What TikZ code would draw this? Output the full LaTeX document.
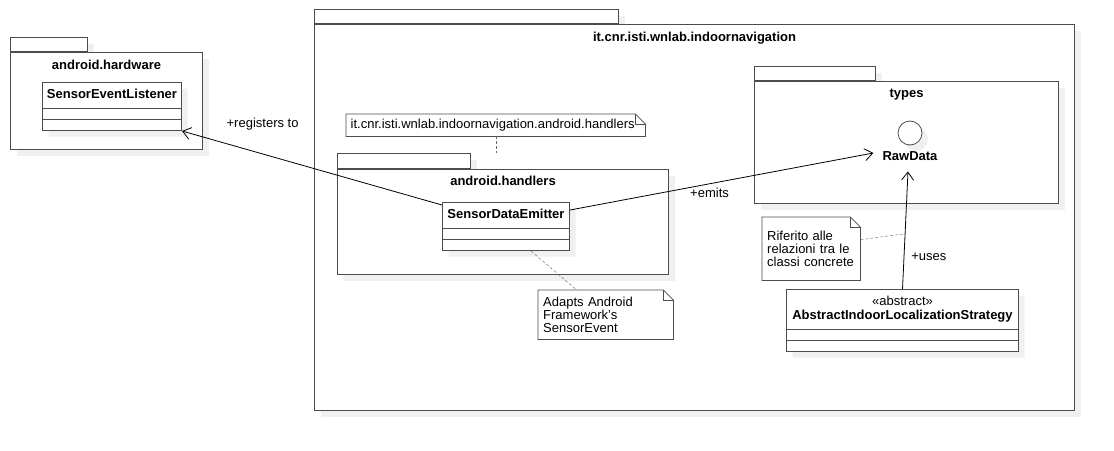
\documentclass[tikz,border=0pt]{standalone}
\usepackage{fontspec}
\setmainfont{Liberation Sans}
\usetikzlibrary{arrows.meta, calc, positioning, shadows, shapes.multipart}

\newcommand\diafont{\fontsize{13}{13}\selectfont}
\newcommand\clsstrut{\rule[-4.5pt]{0pt}{15pt}}
\newcommand\notebox[1]{%
  \draw[notebord] (#1.north west) -- ($(#1.north east)+(-10,0)$) -- ($(#1.north east)+(0,10)$)
    -- (#1.south east) -- (#1.south west) -- cycle;
  \draw[notebord] ($(#1.north east)+(-10,0)$) |- ($(#1.north east)+(0,10)$);}

\tikzset{
  boxline/.style={draw=black!70, line width=1pt, fill=white},
  dropshade/.style={drop shadow={shadow xshift=6pt, shadow yshift=-6pt, fill=black!6, opacity=1}},
  pkgtab/.style={boxline, dropshade, anchor=north west, inner sep=0pt},
  pkgbody/.style={boxline, dropshade, inner sep=0pt},
  pkgname/.style={font=\diafont\bfseries, inner sep=0pt, text height=9.5pt, text depth=3pt},
  umlclass/.style={boxline, dropshade, rectangle split, rectangle split parts=3,
    rectangle split empty part height=0pt, rectangle split empty part depth=0pt,
    inner ysep=5pt, inner xsep=3pt, align=center, font=\diafont\bfseries, anchor=north west},
  umlnote/.style={inner xsep=5pt, inner ysep=2pt, align=left, anchor=north west},
  notebord/.style={draw=black!70, line width=0.8pt},
  notelink/.style={draw=black!60, thin, dash pattern=on 3pt off 2pt},
  assoc/.style={draw=black, line width=0.8pt, -{Straight Barb[length=8pt, width=12pt]}},
  elabel/.style={inner sep=1pt, text height=9.5pt, text depth=3pt}
}

\begin{document}
\begin{tikzpicture}[x=1pt, y=-1pt, font=\diafont]
\useasboundingbox (0,0) rectangle (1114,450);

% packages
\node[pkgtab, minimum width=304pt, minimum height=14pt] (navtab) at (314,9) {};
\node[pkgbody, minimum width=760pt, minimum height=386pt, below right=0pt and 0pt of navtab.south west] (nav) {};
\node[pkgname, below=7.5pt of nav.north] (navname) {it.cnr.isti.wnlab.indoornavigation};

\node[pkgtab, minimum width=77pt, minimum height=14pt] (hwtab) at (10,37) {};
\node[pkgbody, minimum width=192pt, minimum height=97pt, below right=0pt and 0pt of hwtab.south west] (hw) {};
\node[pkgname, below=7.5pt of hw.north] (hwname) {android.hardware};

\node[pkgtab, minimum width=121pt, minimum height=14pt] (typestab) at (754,66) {};
\node[pkgbody, minimum width=304pt, minimum height=122pt, below right=0pt and 0pt of typestab.south west] (types) {};
\node[pkgname, below=7pt of types.north] (typesname) {types};

\node[pkgtab, minimum width=133pt, minimum height=15pt] (hdltab) at (337,153) {};
\node[pkgbody, minimum width=331pt, minimum height=105pt, below right=0pt and 0pt of hdltab.south west] (hdl) {};
\node[pkgname, below=7pt of hdl.north] (hdlname) {android.handlers};

% classes
\node[umlclass, text width=133pt] (sel) at (42,82) {\clsstrut SensorEventListener\nodepart{two}\nodepart{three}};
\node[umlclass, text width=121pt] (sde) at (442,202) {\clsstrut SensorDataEmitter\nodepart{two}\nodepart{three}};
\node[umlclass, text width=227pt, inner xsep=2.5pt] (abs) at (786,289)
  {\rule{0pt}{10.5pt}{\mdseries «abstract»}\\[1pt]\rule[-4.5pt]{0pt}{4.5pt}AbstractIndoorLocalizationStrategy\nodepart{two}\nodepart{three}};

% interface
\node[circle, boxline, dropshade, line width=0.8pt, minimum size=24pt, inner sep=0pt] (rawdata) at (910,133) {};
\node[pkgname] (rawname) at (910,157) {RawData};

% notes
\node[umlnote, text width=290pt, inner xsep=4.5pt, minimum height=22pt] (pkgnote) at (346,114)
  {it.cnr.isti.wnlab.indoornavigation.android.handlers};
\notebox{pkgnote}
\node[umlnote, text width=125pt, minimum height=49pt] (adaptsnote) at (538,290)
  {Adapts Android\\Framework's\\SensorEvent};
\notebox{adaptsnote}
\node[umlnote, text width=88pt, minimum height=63pt] (rifnote) at (762,217)
  {Riferito alle\\relazioni tra le\\classi concrete};
\notebox{rifnote}

% associations
\draw[assoc] ($(sde.north west)+(0,3)$) -- node[elabel, pos=0.69, above=22pt] (reglabel) {+registers to} (sel.south east);
\draw[assoc] ($(sde.north east)+(0,8)$) -- node[elabel, pos=0.46, below=3pt] (emitlabel) {+emits} ($(rawname.west)+(-9,-4)$);
\draw[assoc] (abs.north) -- coordinate[pos=0.47] (usesmid) node[elabel, pos=0.27, right=6pt] (uselabel) {+uses} ($(rawname.south)+(-2,8)$);

% note links
\draw[notelink] (pkgnote.south) -- (pkgnote.south |- hdltab.north);
\draw[notelink] ($(sde.south)+(25,0)$) -- ($(adaptsnote.north)+(-29,0)$);
\draw[notelink] ($(rifnote.east)+(0,-9)$) -- (usesmid);
\end{tikzpicture}
\end{document}
